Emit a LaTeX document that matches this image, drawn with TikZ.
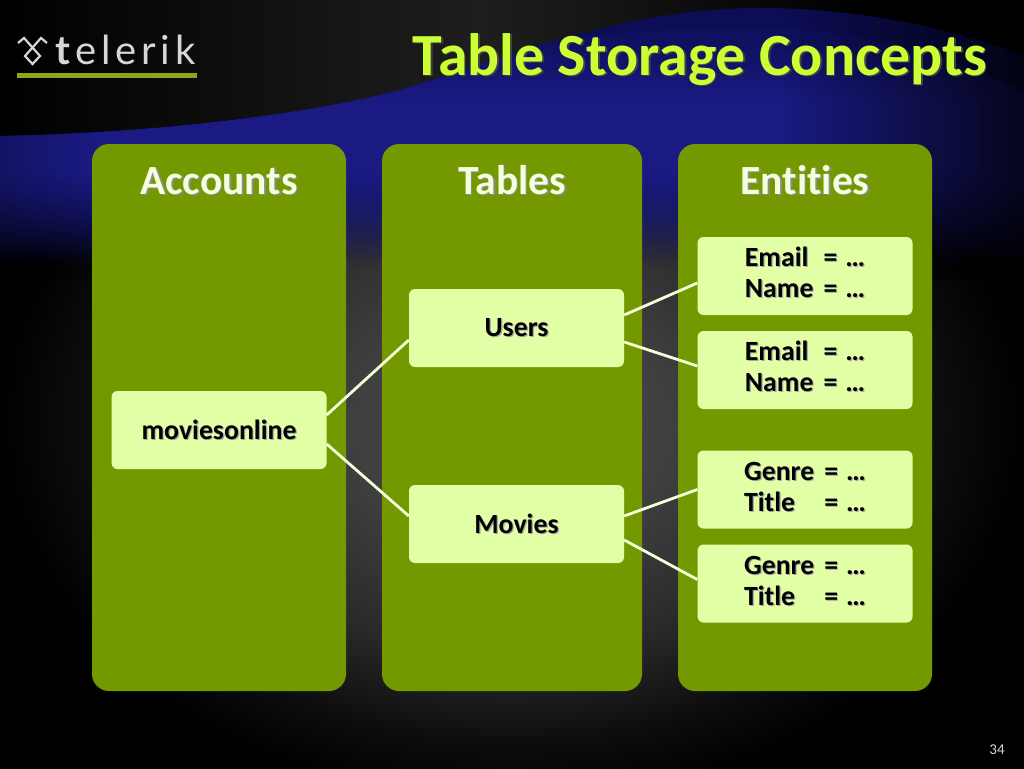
\documentclass[tikz,border=0pt]{standalone}
\usepackage{fontspec}
\setmainfont[Ligatures=NoCommon]{Carlito}
\newfontfamily\logofont[LetterSpace=12]{Lato}
\usetikzlibrary{calc}
\definecolor{panelgreen}{HTML}{749900}
\definecolor{boxlight}{HTML}{E3FFA6}
\definecolor{titlelime}{HTML}{CCFF33}
\definecolor{bandblue}{HTML}{1A1A82}
\definecolor{deepblue}{HTML}{0D0D55}
\definecolor{logogreen}{HTML}{8FA61A}
\definecolor{logogray}{HTML}{D6D6D6}
\definecolor{bg0}{HTML}{4A4A4A}
\definecolor{bg1}{HTML}{404040}
\definecolor{bg2}{HTML}{2A2A2A}
\definecolor{bg3}{HTML}{0D0D0D}
\definecolor{topgray}{HTML}{1E1E1E}
\newcommand{\shtxt}[3][1.6pt]{\leavevmode\rlap{\hspace{#1}\raisebox{-#1}{\textcolor{#3}{#2}}}#2}
\pgfdeclareradialshading{bgshade}{\pgfpoint{0bp}{-3bp}}{%
 color(0bp)=(bg0);color(7.5bp)=(bg1);color(15bp)=(bg2);color(21bp)=(bg3);color(25bp)=(black);color(100bp)=(black)}
\tikzset{
 panel/.style={fill=panelgreen,rounded corners=17pt,draw=none},
 itembox/.style={fill=boxlight,rounded corners=6pt,draw=none,minimum width=215pt,minimum height=78pt,inner sep=0pt,text=black,font=\fontsize{27.8}{31}\selectfont\bfseries},
 heading/.style={font=\fontsize{41.5}{44}\selectfont\bfseries,inner sep=0pt,text=boxlight!40!white,anchor=base},
 link/.style={draw=boxlight!40!white,line width=2.8pt},
}
\newcommand{\swooshouter}{(0,136) .. controls (150,133) and (300,116) .. (400,90) .. controls (500,60) and (620,8) .. (760,8) .. controls (860,8) and (950,28) .. (1024,56) -- (1024,280) -- (0,280) -- cycle}
\newcommand{\swooshinner}{(0,136) .. controls (150,133) and (300,116) .. (400,90) .. controls (450,72) and (500,50) .. (535,44) .. controls (620,30) and (700,28) .. (780,29) .. controls (860,31) and (950,55) .. (1024,92) -- (1024,280) -- (0,280) -- cycle}
\begin{document}
\begin{tikzpicture}[x=1pt,y=-1pt]
\useasboundingbox (0,0) rectangle (1024,768);
\fill[black] (0,0) rectangle (1024,768);
\shade[shading=bgshade] (0,0) rectangle (1024,768);
% dark top area
\shade[left color=black,right color=topgray] (0,0) rectangle (480,145);
\shade[left color=topgray,right color=black] (480,0) rectangle (860,145);
\fill[black] (860,0) rectangle (1024,145);
% swoosh
\begin{scope}
\clip \swooshouter;
\foreach \yy in {0,2,...,278}{
  \pgfmathsetmacro{\aval}{\yy<160 ? 1 : max(0,1-(\yy-160)/105)}
  \fill[deepblue,opacity=\aval] (0,\yy) rectangle (1024,\yy+2);
}
\begin{scope}
\clip \swooshinner;
\foreach \yy in {0,2,...,278}{
  \pgfmathsetmacro{\aval}{\yy<100 ? max(0.25,(\yy-20)/80) : (\yy<170 ? 1 : max(0,1-(\yy-170)/95))}
  \fill[bandblue,opacity=\aval] (0,\yy) rectangle (1024,\yy+2);
}
\end{scope}
% falling away towards the right side and left lower side
\foreach \xx in {780,784,...,1020}{
  \pgfmathsetmacro{\aval}{(\xx-780)/240*0.75}
  \fill[black,opacity=\aval] (\xx,0) rectangle (\xx+4,280);
}
\foreach \xx in {0,4,...,88}{
  \pgfmathsetmacro{\aval}{0.22*(1-\xx/90)}
  \fill[black,opacity=\aval] (\xx,130) rectangle (\xx+4,280);
}
\end{scope}
% logo
\fill[logogreen] (17,73) rectangle (197,78);
\node[inner sep=0pt,anchor=base west,text=logogray] (logotext) at (55.5,64)
 {\fontsize{40}{40}\logofont{\textbf{t}elerik}};
\draw[logogray,line width=2.2pt,line join=miter] (18,43) -- (24,38) -- (40,56) -- (32.5,64) -- (25,56) -- (41,38) -- (47,43);
% title
\node[anchor=base east,inner sep=0pt,text=titlelime] (title) at (987,75)
 {\fontsize{59.8}{60}\selectfont\bfseries\shtxt[1.8pt]{Table Storage Concepts}{black!75}};
% panels
\fill[panel] (92,144) rectangle (346,691);
\fill[panel] (382,144) rectangle (642,691);
\fill[panel] (678,144) rectangle (932,691);
\node[heading] (hA) at (219,194) {\shtxt{Accounts}{black!45}};
\node[heading] (hT) at (512,194) {\shtxt{Tables}{black!45}};
\node[heading] (hE) at (805,194) {\shtxt{Entities}{black!45}};
% boxes
\node[itembox] (acct) at (219,430) {\raisebox{-3pt}{\shtxt[1.2pt]{moviesonline}{black!35}}};
\node[itembox] (users) at (516.5,328) {\raisebox{-3pt}{\shtxt[1.2pt]{Users}{black!35}}};
\node[itembox] (movies) at (516.5,524) {\raisebox{-3pt}{\shtxt[1.2pt]{Movies}{black!35}}};
\newcommand{\entry}[2]{\raisebox{-6pt}{\begin{tabular}{@{}l@{\hspace{10pt}}l@{}}\shtxt[1.2pt]{#1}{black!35}&\shtxt[1.2pt]{=\hspace{8pt}\dots}{black!35}\\\shtxt[1.2pt]{#2}{black!35}&\shtxt[1.2pt]{=\hspace{8pt}\dots}{black!35}\end{tabular}}}
\node[itembox] (e1) at (805,276) {\entry{Email}{Name}};
\node[itembox] (e2) at (805,370) {\entry{Email}{Name}};
\node[itembox] (e3) at (805,489.5) {\entry{Genre}{Title}};
\node[itembox] (e4) at (805,583.5) {\entry{Genre}{Title}};
% links
\draw[link] ($(acct.east)+(0,-15)$) -- ($(users.west)+(0,12)$);
\draw[link] ($(acct.east)+(0,14)$) -- ($(movies.west)+(0,-8)$);
\draw[link] ($(users.east)+(0,-13)$) -- ($(e1.west)+(0,7)$);
\draw[link] ($(users.east)+(0,14)$) -- ($(e2.west)+(0,-4)$);
\draw[link] ($(movies.east)+(0,-8)$) -- ($(e3.west)+(0,0)$);
\draw[link] ($(movies.east)+(0,16)$) -- ($(e4.west)+(0,-4)$);
% page number
\node[text=logogray,inner sep=0pt] (pg) at (997,750) {\fontsize{15}{15}\selectfont 34};
\end{tikzpicture}
\end{document}
